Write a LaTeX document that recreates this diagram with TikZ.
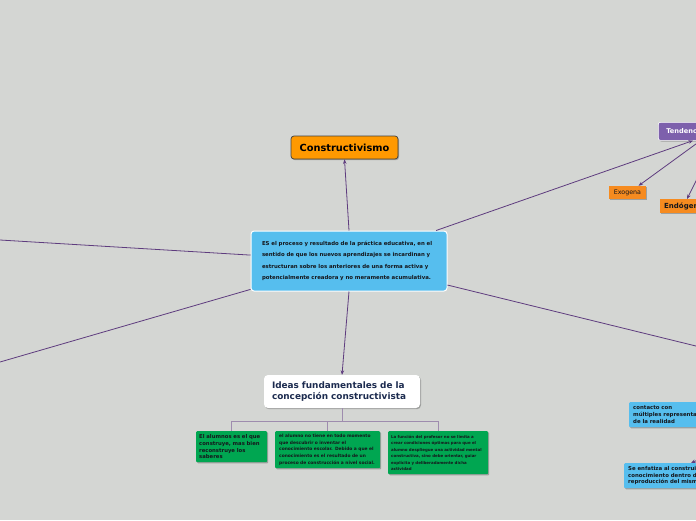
\documentclass[tikz,border=0pt]{standalone}
\usepackage{fontspec}
\setmainfont{DejaVu Sans}
\usetikzlibrary{arrows.meta,calc,shadows}
\definecolor{bg}{HTML}{D4D6D3}
\definecolor{cblue}{HTML}{56BEEE}
\definecolor{corange}{HTML}{FF9900}
\definecolor{lorange}{HTML}{F68B1F}
\definecolor{cpurple}{HTML}{7D60AC}
\definecolor{cgreen}{HTML}{00A651}
\definecolor{conncol}{HTML}{5E3C7E}
\definecolor{treecol}{HTML}{9E8CAE}
\definecolor{navy}{HTML}{1C2B4F}
\definecolor{dtext}{HTML}{15171C}
\tikzset{
  conn/.style={draw=conncol, line width=0.8pt},
  arr/.style={conn, -{Stealth[length=4.5pt,width=3.5pt]}},
  tree/.style={draw=treecol, line width=0.9pt},
  shad/.style={drop shadow={shadow xshift=1pt,shadow yshift=-1.2pt,opacity=0.25,fill=black}},
  box/.style={rectangle, align=left, inner ysep=0pt, text=dtext, font=\bfseries},
  greenbox/.style={box, shad, fill=cgreen, rounded corners=1pt, anchor=north west},
  bluesm/.style={box, shad, fill=cblue, rounded corners=1pt, anchor=north west, inner xsep=4pt,
     font=\bfseries\fontsize{5.4}{6.6}\selectfont},
}
\begin{document}
\begin{tikzpicture}[x=1pt,y=-1pt]
\fill[bg] (0,0) rectangle (696,520);
\useasboundingbox (0,0) rectangle (696,520);
\clip (0,0) rectangle (696,520);

% central node
\node[box, fill=cblue, draw=white, line width=1pt, rounded corners=3pt,
      text width=174pt, inner xsep=11pt, minimum width=196pt, minimum height=60pt,
      font=\bfseries\fontsize{5.4}{11.4}\selectfont] (c) at (349,261)
  {ES el proceso y resultado de la práctica educativa, en el\\
   sentido de que los nuevos aprendizajes se incardinan y\\
   estructuran sobre los anteriores de una forma activa y\\
   potencialmente creadora y no meramente acumulativa.};

% Constructivismo
\node[shad, fill=corange, draw=black!75, line width=0.7pt, rounded corners=3pt,
      minimum width=107pt, minimum height=23pt, inner sep=0pt, text=black,
      font=\bfseries\fontsize{9.8}{11}\selectfont] (constr) at (344.5,147.5) {Constructivismo};

% Ideas fundamentales
\node[shad, fill=white, rounded corners=4pt, align=left, text=navy,
      text width=140pt, inner xsep=8pt, inner ysep=0pt, minimum width=156pt, minimum height=33pt,
      font=\bfseries\fontsize{8.9}{11}\selectfont] (ideas) at (342,391.5)
  {Ideas fundamentales de la\\concepción constructivista};

% green boxes
\node[greenbox, text width=65pt, inner xsep=3pt, minimum width=71pt, minimum height=31pt,
      font=\bfseries\fontsize{5.3}{6.7}\selectfont] (g1) at (196,431)
  {El alumnos es el que\\construye, mas bien\\reconstruye los\\saberes};
\node[greenbox, text width=101pt, inner xsep=2pt, minimum width=105pt, minimum height=37pt,
      font=\bfseries\fontsize{4.4}{6.6}\selectfont] (g2) at (275,431)
  {\hspace*{2pt}el alumno no tiene en todo momento\\\hspace*{2pt}que descubrir o inventar el\\\hspace*{2pt}conocimiento escolar. Debido a que el\\\hspace*{2pt}conocimiento es el resultado de un\\\hspace*{2pt}proceso de construcción a nivel social.};
\node[greenbox, text width=94pt, inner xsep=3pt, minimum width=100pt, minimum height=43pt,
      font=\bfseries\fontsize{3.95}{6.5}\selectfont] (g3) at (388,431)
  {La función del profesor no se limita a\\ crear condiciones óptimas para que el\\alumno despliegue una actividad mental\\constructiva, sino debe orientar, guiar\\explícita y deliberadamente dicha\\actividad};

% right side nodes
\node[shad, fill=cpurple, draw=white, line width=0.6pt, rounded corners=2pt, anchor=north west,
      minimum width=100pt, minimum height=18pt, inner xsep=8pt, text=white, align=left, text width=84pt,
      font=\bfseries\fontsize{6.6}{8}\selectfont] (tend) at (658,122) {Tendencias};
\node[shad, fill=lorange, minimum width=37pt, minimum height=13pt, inner sep=0pt, text=dtext,
      font=\fontsize{6.3}{8}\selectfont] (exo) at (627.5,192.5) {Exogena};
\node[shad, fill=lorange, anchor=north west, minimum width=70pt, minimum height=14pt, inner xsep=4pt,
      text width=62pt, align=left, text=dtext, font=\bfseries\fontsize{7}{8}\selectfont] (endo) at (660,199) {Endógena};

\node[bluesm, text width=110pt, minimum height=25pt] (b1) at (629,402)
  {contacto con\\múltiples representaciones\\de la realidad};
\node[bluesm, text width=110pt, minimum height=25pt] (b2) at (624,463)
  {Se enfatiza al construir el\\conocimiento dentro de\\reproducción del mismo};

% free ends
\coordinate (L1) at (0,240);
\coordinate (L2) at (0,362);
\coordinate (R1) at (700,347);
\coordinate (R2) at (702,458);

% connectors
\draw[arr] (c.north) -- (constr.south);
\draw[arr] (c.south) -- (ideas.north);
\draw[conn] (L1) -- (c);
\draw[conn] (L2) -- (c);
\draw[conn] (c) -- (R1);
\draw[arr] (c) -- ($(tend.south west)+(35,0)$);
\draw[arr] ($(tend.south west)+(42.6,0)$) -- ($(exo.north)+(11,0)$);
\draw[arr] ($(tend.south west)+(58,0)$) -- ($(endo.north west)+(27,0)$);
\draw[arr] (R2) -- ($(b2.north west)+(67,0)$);

% tree
\draw[tree] (ideas.south) -- ++(0,13) -| (g1.north);
\draw[tree] (ideas.south) -- ++(0,13) -| (g2.north);
\draw[tree] (ideas.south) -- ++(0,13) -| (g3.north);
\end{tikzpicture}
\end{document}
